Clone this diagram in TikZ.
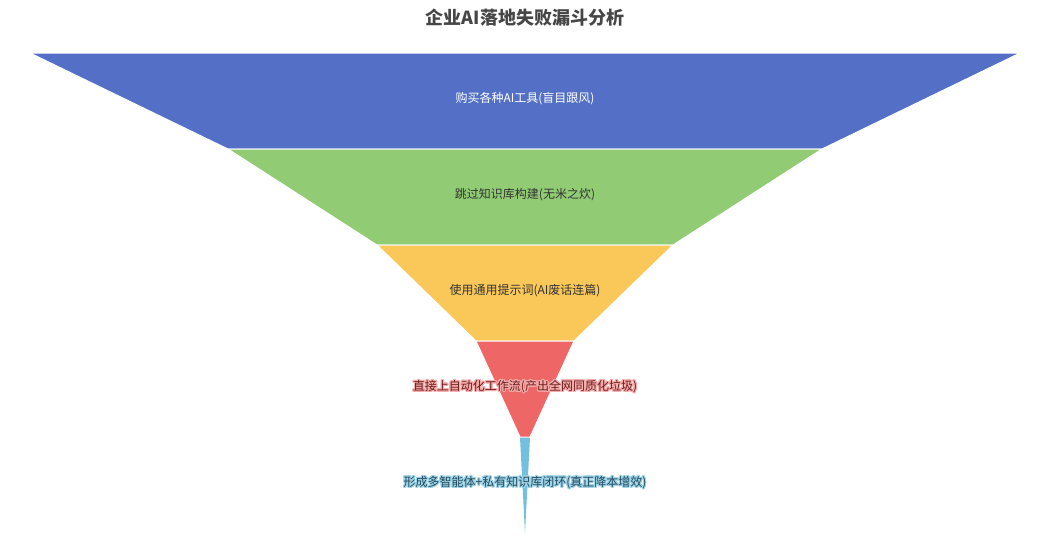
\documentclass[tikz,border=0pt]{standalone}
\usepackage{fontspec}
\setmainfont{Noto Sans CJK SC}
\usepackage[copies]{contour}
\contourlength{1.1pt}
\contournumber{24}
\usetikzlibrary{positioning}
\definecolor{funnelblue}{HTML}{5470C6}
\definecolor{funnelgreen}{HTML}{91CC75}
\definecolor{funnelyellow}{HTML}{FAC858}
\definecolor{funnelred}{HTML}{EE6666}
\definecolor{funnelcyan}{HTML}{73C0DE}
\definecolor{titlegray}{HTML}{464646}
\definecolor{labeldark}{HTML}{333333}
\definecolor{labelred}{HTML}{6B1F1F}
\definecolor{labelcyan}{HTML}{244B5C}
\tikzset{
    funnellayer/.style={draw=white, line width=1pt, line join=round},
    funnellabel/.style={font=\fontsize{12}{14}\selectfont, align=center, inner sep=1pt},
    funneltitle/.style={font=\bfseries\fontsize{18}{22}\selectfont, text=titlegray}
}

\begin{document}
\begin{tikzpicture}[x=1pt, y=-1pt]
        \useasboundingbox (0,0) rectangle (1050,546);

        % funnel layers
        \filldraw[funnellayer, fill=funnelblue] (30,53) -- (1020,53) -- (822,149) -- (228,149) -- cycle;
        \filldraw[funnellayer, fill=funnelgreen] (228,149) -- (822,149) -- (673,245) -- (377,245) -- cycle;
        \filldraw[funnellayer, fill=funnelyellow] (377,245) -- (673,245) -- (574,341) -- (476,341) -- cycle;
        \filldraw[funnellayer, fill=funnelred] (476,341) -- (574,341) -- (530,437) -- (520,437) -- cycle;
        \fill[fill=funnelcyan] (520,437.5) -- (530,437.5) -- (525,533) -- cycle;

        \node[funneltitle] (title) at (525,18) {企业AI落地失败漏斗分析};

        \node[funnellabel, text=white] (buy) at (525,99) {购买各种AI工具(盲目跟风)};
        \node[funnellabel, text=labeldark] (skip) at (525,195) {跳过知识库构建(无米之炊)};
        \node[funnellabel, text=labeldark] (prompt) at (525,291) {使用通用提示词(AI废话连篇)};
        \node[funnellabel, text=labelred] (auto) at (525,387) {\contour{funnelred!55}{直接上自动化工作流(产出全网同质化垃圾)}};
        \node[funnellabel, text=labelcyan] (agent) at (525,483) {\contour{funnelcyan!70}{形成多智能体+私有知识库闭环(真正降本增效)}};
\end{tikzpicture}
\end{document}
